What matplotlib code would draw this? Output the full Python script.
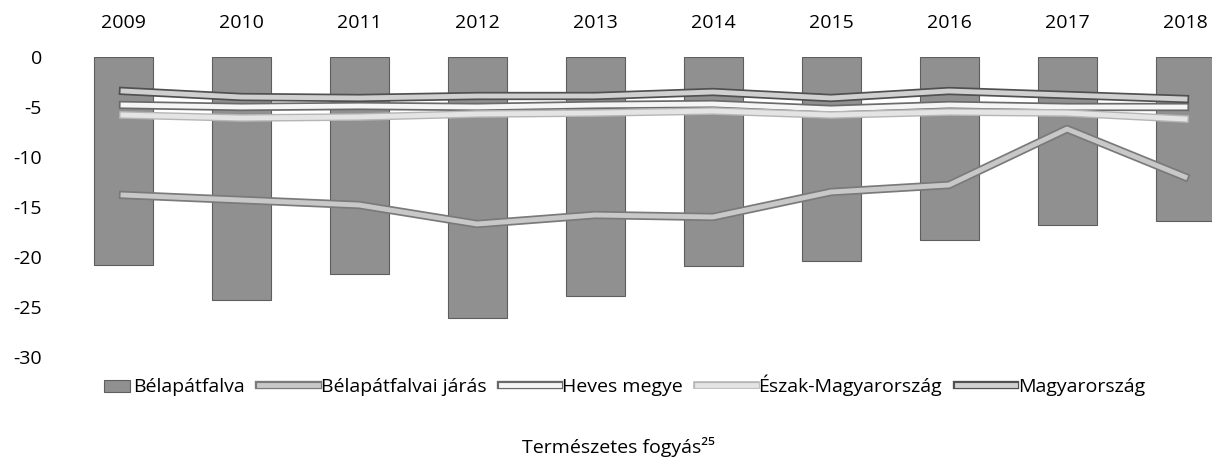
import matplotlib
matplotlib.use("Agg")
import matplotlib.pyplot as plt
import matplotlib.patheffects as pe
import matplotlib.patches as mpatches
from matplotlib.legend_handler import HandlerPatch

years = ["2009", "2010", "2011", "2012", "2013", "2014", "2015", "2016", "2017", "2018"]

# Bélapátfalva (bars)
belapatfalva = [-20.8, -24.3, -21.7, -26.1, -23.9, -20.9, -20.4, -18.3, -16.8, -16.4]

# lines
jaras = [-13.8, -14.3, -14.8, -16.7, -15.8, -16.0, -13.5, -12.8, -7.2, -12.0]
heves = [-4.8, -5.0, -4.9, -5.0, -4.8, -4.7, -5.2, -4.8, -5.0, -5.0]
eszak = [-5.8, -6.1, -6.0, -5.7, -5.6, -5.4, -5.8, -5.5, -5.6, -6.2]
magyar = [-3.4, -4.0, -4.1, -3.9, -3.9, -3.5, -4.1, -3.4, -3.8, -4.2]

plt.rcParams["font.family"] = ["Open Sans", "DejaVu Sans"]
plt.rcParams["axes.unicode_minus"] = False
fs = 14


def small_box(legend, orig_handle, xdescent, ydescent, width, height, fontsize):
    # excel-like short key for the bar series
    w = width * 0.45
    return mpatches.Rectangle((width - w - xdescent, -ydescent), w, height * 0.85)


def main():
    fig = plt.figure(figsize=(12.12, 4.72), dpi=100)
    ax = fig.add_axes([64 / 1212, 115 / 472, 1180 / 1212, 300 / 472])

    x = list(range(len(years)))
    bars = ax.bar(x, belapatfalva, width=0.5, color="#909090", edgecolor="#5e5e5e",
                  linewidth=0.8, label="Bélapátfalva", zorder=1)

    l1, = ax.plot(x, jaras, color="#c8c8c8", lw=3.5, zorder=3,
                  path_effects=[pe.Stroke(linewidth=6, foreground="#7a7a7a"), pe.Normal()])
    l2, = ax.plot(x, heves, color="#f5f5f5", lw=3.5, zorder=3,
                  path_effects=[pe.Stroke(linewidth=6, foreground="#6a6a6a"), pe.Normal()])
    l3, = ax.plot(x, eszak, color="#e4e4e4", lw=3.5, zorder=3,
                  path_effects=[pe.Stroke(linewidth=5.5, foreground="#b5b5b5"), pe.Normal()])
    l4, = ax.plot(x, magyar, color="#d0d0d0", lw=3.5, zorder=3,
                  path_effects=[pe.Stroke(linewidth=6, foreground="#505050"), pe.Normal()])

    ax.set_xlim(-0.5, len(years) - 0.5)
    ax.set_ylim(-30, 0)
    ax.set_yticks([0, -5, -10, -15, -20, -25, -30])
    ax.set_xticks(x)
    ax.set_xticklabels(years)
    ax.tick_params(axis="x", bottom=False, labelbottom=False, top=False, labeltop=True,
                   length=0, pad=18, labelsize=fs)
    ax.tick_params(axis="y", length=0, pad=16, labelsize=fs)
    for s in ax.spines.values():
        s.set_visible(False)

    bar_key = bars.patches[0]
    handles = [bar_key, l1, l2, l3, l4]
    labels = ["Bélapátfalva", "Bélapátfalvai járás", "Heves megye",
              "Észak-Magyarország", "Magyarország"]
    fig.legend(handles, labels, loc="center",
               bbox_to_anchor=(0.502, 0.184), ncol=5, frameon=False, fontsize=fs,
               handlelength=3.0, handletextpad=0.15, columnspacing=0.75,
               handler_map={bar_key: HandlerPatch(patch_func=small_box)})

    fig.text(0.51, 0.053, "Természetes fogyás²⁵", ha="center", va="center", fontsize=fs)

    fig.savefig("out.png", dpi=100)


if __name__ == "__main__":
    main()
